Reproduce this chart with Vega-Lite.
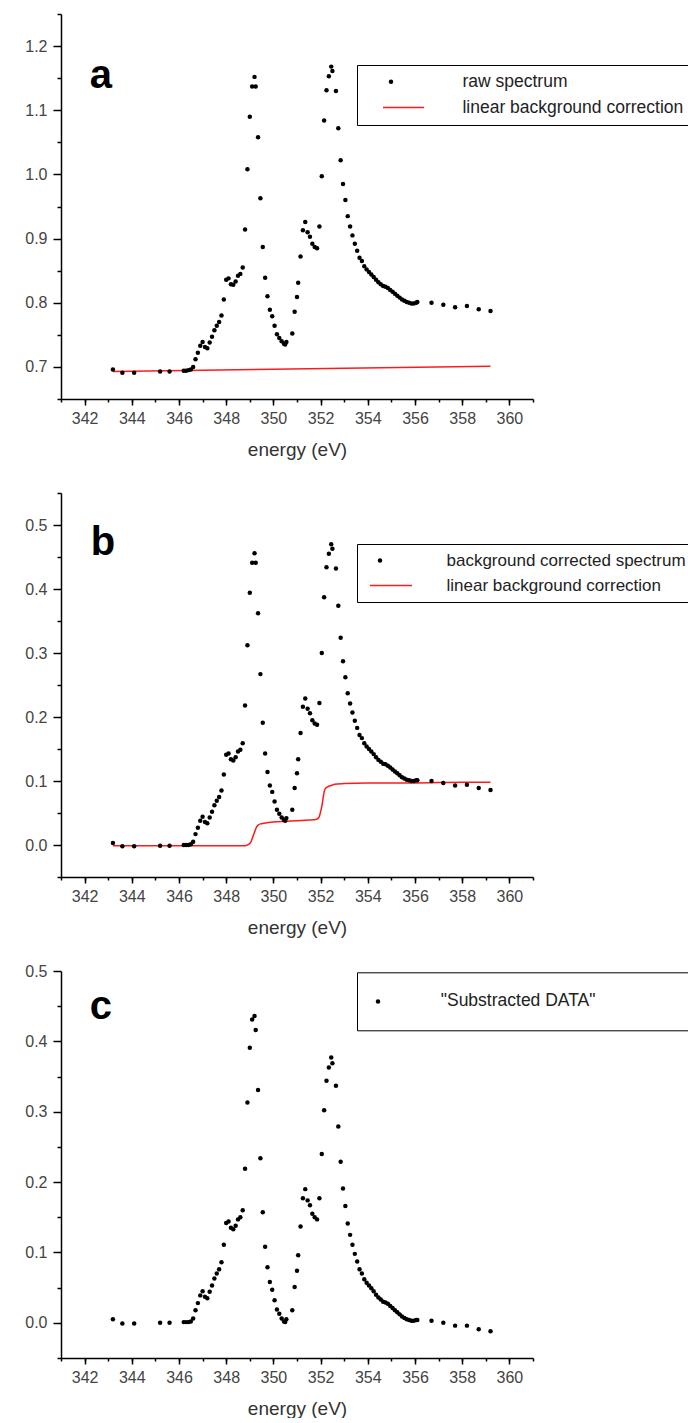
{
  "$schema": "https://vega.github.io/schema/vega-lite/v6.json",
  "padding": {"left": 24, "top": 13, "right": 0, "bottom": 0},
  "spacing": 94,
  "bounds": "flush",
  "resolve": {"scale": {"fill": "independent", "stroke": "independent"}, "legend": {"fill": "independent", "stroke": "independent"}},
  "config": {
    "view": {"stroke": null},
    "axis": {
      "domainColor": "black", "domainWidth": 1.5, "tickColor": "black", "tickWidth": 1.5, "tickCount": 60,
      "labelFont": "Liberation Sans", "labelFontSize": 16, "labelColor": "#444", "labelPadding": 6,
      "titleFont": "Liberation Sans", "titleFontSize": 19, "titleFontWeight": "normal", "titleColor": "#333", "titlePadding": 14,
      "grid": false, "labelFlush": false, "labelOverlap": false
    },
    "legend": {"labelFont": "Liberation Sans", "labelFontSize": 17.5, "labelColor": "#222", "labelLimit": 400}
  },
  "datasets": {
    "rawA": [
      {"energy":343.2,"intensity":0.696},{"energy":343.6,"intensity":0.691},{"energy":344.1,"intensity":0.691},{"energy":345.2,"intensity":0.693},{"energy":345.6,"intensity":0.693},
      {"energy":346.2,"intensity":0.694},{"energy":346.3,"intensity":0.694},{"energy":346.4,"intensity":0.695},{"energy":346.5,"intensity":0.696},{"energy":346.6,"intensity":0.700},
      {"energy":346.7,"intensity":0.712},{"energy":346.8,"intensity":0.722},{"energy":346.9,"intensity":0.733},{"energy":347.0,"intensity":0.739},{"energy":347.1,"intensity":0.731},
      {"energy":347.2,"intensity":0.729},{"energy":347.3,"intensity":0.738},{"energy":347.4,"intensity":0.747},{"energy":347.5,"intensity":0.757},{"energy":347.6,"intensity":0.764},
      {"energy":347.7,"intensity":0.770},{"energy":347.8,"intensity":0.780},{"energy":347.9,"intensity":0.805},{"energy":348.0,"intensity":0.836},{"energy":348.1,"intensity":0.838},
      {"energy":348.2,"intensity":0.829},{"energy":348.3,"intensity":0.828},{"energy":348.4,"intensity":0.833},{"energy":348.5,"intensity":0.842},{"energy":348.6,"intensity":0.845},
      {"energy":348.7,"intensity":0.855},{"energy":348.8,"intensity":0.914},{"energy":348.9,"intensity":1.008},{"energy":349.0,"intensity":1.090},{"energy":349.1,"intensity":1.137},
      {"energy":349.2,"intensity":1.152},{"energy":349.25,"intensity":1.137},{"energy":349.35,"intensity":1.058},{"energy":349.45,"intensity":0.963},{"energy":349.55,"intensity":0.887},
      {"energy":349.65,"intensity":0.839},{"energy":349.75,"intensity":0.810},{"energy":349.85,"intensity":0.789},{"energy":349.95,"intensity":0.779},{"energy":350.05,"intensity":0.764},
      {"energy":350.15,"intensity":0.751},{"energy":350.25,"intensity":0.745},{"energy":350.35,"intensity":0.740},{"energy":350.45,"intensity":0.736},{"energy":350.5,"intensity":0.735},
      {"energy":350.55,"intensity":0.739},{"energy":350.8,"intensity":0.752},{"energy":350.9,"intensity":0.786},{"energy":351.0,"intensity":0.809},{"energy":351.05,"intensity":0.831},
      {"energy":351.15,"intensity":0.872},{"energy":351.25,"intensity":0.913},{"energy":351.35,"intensity":0.926},{"energy":351.45,"intensity":0.910},{"energy":351.55,"intensity":0.903},
      {"energy":351.65,"intensity":0.892},{"energy":351.75,"intensity":0.887},{"energy":351.85,"intensity":0.885},{"energy":351.95,"intensity":0.919},{"energy":352.05,"intensity":0.997},
      {"energy":352.15,"intensity":1.084},{"energy":352.25,"intensity":1.131},{"energy":352.35,"intensity":1.153},{"energy":352.45,"intensity":1.168},{"energy":352.5,"intensity":1.161},
      {"energy":352.65,"intensity":1.130},{"energy":352.75,"intensity":1.072},{"energy":352.85,"intensity":1.022},{"energy":352.95,"intensity":0.985},{"energy":353.05,"intensity":0.960},
      {"energy":353.15,"intensity":0.935},{"energy":353.25,"intensity":0.919},{"energy":353.35,"intensity":0.905},{"energy":353.45,"intensity":0.892},{"energy":353.55,"intensity":0.881},
      {"energy":353.65,"intensity":0.870},{"energy":353.75,"intensity":0.865},{"energy":353.85,"intensity":0.857},{"energy":353.95,"intensity":0.852},{"energy":354.05,"intensity":0.848},
      {"energy":354.15,"intensity":0.844},{"energy":354.25,"intensity":0.840},{"energy":354.35,"intensity":0.836},{"energy":354.45,"intensity":0.832},{"energy":354.55,"intensity":0.829},
      {"energy":354.65,"intensity":0.826},{"energy":354.75,"intensity":0.825},{"energy":354.85,"intensity":0.823},{"energy":354.95,"intensity":0.820},{"energy":355.05,"intensity":0.817},
      {"energy":355.15,"intensity":0.814},{"energy":355.25,"intensity":0.811},{"energy":355.35,"intensity":0.808},{"energy":355.45,"intensity":0.805},{"energy":355.55,"intensity":0.803},
      {"energy":355.65,"intensity":0.801},{"energy":355.75,"intensity":0.800},{"energy":355.85,"intensity":0.799},{"energy":355.95,"intensity":0.799},{"energy":356.05,"intensity":0.800},
      {"energy":356.1,"intensity":0.801},{"energy":356.7,"intensity":0.800},{"energy":357.2,"intensity":0.797},{"energy":357.7,"intensity":0.793},{"energy":358.2,"intensity":0.795},
      {"energy":358.7,"intensity":0.790},{"energy":359.2,"intensity":0.787}
    ],
    "bgA": [{"energy":343.2,"intensity":0.693},{"energy":359.2,"intensity":0.701}],
    "corrB": [
      {"energy":343.2,"intensity":0.003},{"energy":343.6,"intensity":-0.002},{"energy":344.1,"intensity":-0.002},{"energy":345.2,"intensity":-0.001},{"energy":345.6,"intensity":-0.001},
      {"energy":346.2,"intensity":0.000},{"energy":346.3,"intensity":0.000},{"energy":346.4,"intensity":0.000},{"energy":346.5,"intensity":0.001},{"energy":346.6,"intensity":0.005},
      {"energy":346.7,"intensity":0.017},{"energy":346.8,"intensity":0.027},{"energy":346.9,"intensity":0.038},{"energy":347.0,"intensity":0.044},{"energy":347.1,"intensity":0.036},
      {"energy":347.2,"intensity":0.034},{"energy":347.3,"intensity":0.043},{"energy":347.4,"intensity":0.052},{"energy":347.5,"intensity":0.062},{"energy":347.6,"intensity":0.069},
      {"energy":347.7,"intensity":0.075},{"energy":347.8,"intensity":0.085},{"energy":347.9,"intensity":0.110},{"energy":348.0,"intensity":0.141},{"energy":348.1,"intensity":0.143},
      {"energy":348.2,"intensity":0.134},{"energy":348.3,"intensity":0.132},{"energy":348.4,"intensity":0.137},{"energy":348.5,"intensity":0.146},{"energy":348.6,"intensity":0.149},
      {"energy":348.7,"intensity":0.159},{"energy":348.8,"intensity":0.218},{"energy":348.9,"intensity":0.312},{"energy":349.0,"intensity":0.394},{"energy":349.1,"intensity":0.441},
      {"energy":349.2,"intensity":0.456},{"energy":349.25,"intensity":0.441},{"energy":349.35,"intensity":0.362},{"energy":349.45,"intensity":0.267},{"energy":349.55,"intensity":0.191},
      {"energy":349.65,"intensity":0.143},{"energy":349.75,"intensity":0.114},{"energy":349.85,"intensity":0.093},{"energy":349.95,"intensity":0.083},{"energy":350.05,"intensity":0.068},
      {"energy":350.15,"intensity":0.055},{"energy":350.25,"intensity":0.049},{"energy":350.35,"intensity":0.043},{"energy":350.45,"intensity":0.039},{"energy":350.5,"intensity":0.038},
      {"energy":350.55,"intensity":0.042},{"energy":350.8,"intensity":0.055},{"energy":350.9,"intensity":0.089},{"energy":351.0,"intensity":0.112},{"energy":351.05,"intensity":0.134},
      {"energy":351.15,"intensity":0.175},{"energy":351.25,"intensity":0.216},{"energy":351.35,"intensity":0.229},{"energy":351.45,"intensity":0.213},{"energy":351.55,"intensity":0.206},
      {"energy":351.65,"intensity":0.195},{"energy":351.75,"intensity":0.190},{"energy":351.85,"intensity":0.188},{"energy":351.95,"intensity":0.222},{"energy":352.05,"intensity":0.300},
      {"energy":352.15,"intensity":0.387},{"energy":352.25,"intensity":0.434},{"energy":352.35,"intensity":0.455},{"energy":352.45,"intensity":0.470},{"energy":352.5,"intensity":0.463},
      {"energy":352.65,"intensity":0.432},{"energy":352.75,"intensity":0.374},{"energy":352.85,"intensity":0.324},{"energy":352.95,"intensity":0.287},{"energy":353.05,"intensity":0.262},
      {"energy":353.15,"intensity":0.237},{"energy":353.25,"intensity":0.221},{"energy":353.35,"intensity":0.207},{"energy":353.45,"intensity":0.194},{"energy":353.55,"intensity":0.183},
      {"energy":353.65,"intensity":0.172},{"energy":353.75,"intensity":0.167},{"energy":353.85,"intensity":0.159},{"energy":353.95,"intensity":0.154},{"energy":354.05,"intensity":0.150},
      {"energy":354.15,"intensity":0.146},{"energy":354.25,"intensity":0.142},{"energy":354.35,"intensity":0.137},{"energy":354.45,"intensity":0.133},{"energy":354.55,"intensity":0.130},
      {"energy":354.65,"intensity":0.127},{"energy":354.75,"intensity":0.126},{"energy":354.85,"intensity":0.124},{"energy":354.95,"intensity":0.121},{"energy":355.05,"intensity":0.118},
      {"energy":355.15,"intensity":0.115},{"energy":355.25,"intensity":0.112},{"energy":355.35,"intensity":0.109},{"energy":355.45,"intensity":0.106},{"energy":355.55,"intensity":0.104},
      {"energy":355.65,"intensity":0.102},{"energy":355.75,"intensity":0.101},{"energy":355.85,"intensity":0.100},{"energy":355.95,"intensity":0.100},{"energy":356.05,"intensity":0.101},
      {"energy":356.1,"intensity":0.101},{"energy":356.7,"intensity":0.100},{"energy":357.2,"intensity":0.097},{"energy":357.7,"intensity":0.093},{"energy":358.2,"intensity":0.094},
      {"energy":358.7,"intensity":0.089},{"energy":359.2,"intensity":0.086}
    ],
    "bgB": [
      {"energy":343.2,"intensity":-0.001},{"energy":348.8,"intensity":-0.001},{"energy":348.95,"intensity":0.001},{"energy":349.05,"intensity":0.005},{"energy":349.1,"intensity":0.010},
      {"energy":349.15,"intensity":0.015},{"energy":349.2,"intensity":0.020},{"energy":349.25,"intensity":0.025},{"energy":349.3,"intensity":0.029},{"energy":349.35,"intensity":0.031},
      {"energy":349.45,"intensity":0.033},{"energy":349.6,"intensity":0.034},{"energy":350.0,"intensity":0.036},{"energy":350.5,"intensity":0.037},{"energy":351.0,"intensity":0.038},
      {"energy":351.5,"intensity":0.039},{"energy":351.8,"intensity":0.040},{"energy":351.9,"intensity":0.042},{"energy":351.95,"intensity":0.045},{"energy":352.0,"intensity":0.052},
      {"energy":352.05,"intensity":0.060},{"energy":352.1,"intensity":0.072},{"energy":352.15,"intensity":0.083},{"energy":352.2,"intensity":0.088},{"energy":352.3,"intensity":0.091},
      {"energy":352.45,"intensity":0.093},{"energy":352.6,"intensity":0.095},{"energy":353.0,"intensity":0.096},{"energy":354.0,"intensity":0.097},{"energy":356.0,"intensity":0.097},
      {"energy":358.0,"intensity":0.098},{"energy":359.2,"intensity":0.098}
    ],
    "subC": [
      {"energy":343.2,"intensity":0.005},{"energy":343.6,"intensity":-0.001},{"energy":344.1,"intensity":-0.001},{"energy":345.2,"intensity":0.000},{"energy":345.6,"intensity":0.000},
      {"energy":346.2,"intensity":0.001},{"energy":346.3,"intensity":0.001},{"energy":346.4,"intensity":0.001},{"energy":346.5,"intensity":0.002},{"energy":346.6,"intensity":0.006},
      {"energy":346.7,"intensity":0.018},{"energy":346.8,"intensity":0.028},{"energy":346.9,"intensity":0.039},{"energy":347.0,"intensity":0.045},{"energy":347.1,"intensity":0.037},
      {"energy":347.2,"intensity":0.035},{"energy":347.3,"intensity":0.044},{"energy":347.4,"intensity":0.053},{"energy":347.5,"intensity":0.063},{"energy":347.6,"intensity":0.070},
      {"energy":347.7,"intensity":0.076},{"energy":347.8,"intensity":0.086},{"energy":347.9,"intensity":0.111},{"energy":348.0,"intensity":0.142},{"energy":348.1,"intensity":0.144},
      {"energy":348.2,"intensity":0.135},{"energy":348.3,"intensity":0.133},{"energy":348.4,"intensity":0.138},{"energy":348.5,"intensity":0.147},{"energy":348.6,"intensity":0.150},
      {"energy":348.7,"intensity":0.160},{"energy":348.8,"intensity":0.219},{"energy":348.9,"intensity":0.313},{"energy":349.0,"intensity":0.391},{"energy":349.1,"intensity":0.431},
      {"energy":349.2,"intensity":0.436},{"energy":349.25,"intensity":0.416},{"energy":349.35,"intensity":0.331},{"energy":349.45,"intensity":0.234},{"energy":349.55,"intensity":0.157},
      {"energy":349.65,"intensity":0.108},{"energy":349.75,"intensity":0.079},{"energy":349.85,"intensity":0.058},{"energy":349.95,"intensity":0.047},{"energy":350.05,"intensity":0.032},
      {"energy":350.15,"intensity":0.019},{"energy":350.25,"intensity":0.013},{"energy":350.35,"intensity":0.006},{"energy":350.45,"intensity":0.002},{"energy":350.5,"intensity":0.001},
      {"energy":350.55,"intensity":0.005},{"energy":350.8,"intensity":0.018},{"energy":350.9,"intensity":0.051},{"energy":351.0,"intensity":0.074},{"energy":351.05,"intensity":0.096},
      {"energy":351.15,"intensity":0.137},{"energy":351.25,"intensity":0.177},{"energy":351.35,"intensity":0.190},{"energy":351.45,"intensity":0.174},{"energy":351.55,"intensity":0.167},
      {"energy":351.65,"intensity":0.155},{"energy":351.75,"intensity":0.150},{"energy":351.85,"intensity":0.147},{"energy":351.95,"intensity":0.177},{"energy":352.05,"intensity":0.240},
      {"energy":352.15,"intensity":0.302},{"energy":352.25,"intensity":0.344},{"energy":352.35,"intensity":0.363},{"energy":352.45,"intensity":0.377},{"energy":352.5,"intensity":0.369},
      {"energy":352.65,"intensity":0.337},{"energy":352.75,"intensity":0.279},{"energy":352.85,"intensity":0.229},{"energy":352.95,"intensity":0.191},{"energy":353.05,"intensity":0.166},
      {"energy":353.15,"intensity":0.141},{"energy":353.25,"intensity":0.125},{"energy":353.35,"intensity":0.111},{"energy":353.45,"intensity":0.098},{"energy":353.55,"intensity":0.087},
      {"energy":353.65,"intensity":0.076},{"energy":353.75,"intensity":0.070},{"energy":353.85,"intensity":0.062},{"energy":353.95,"intensity":0.057},{"energy":354.05,"intensity":0.053},
      {"energy":354.15,"intensity":0.049},{"energy":354.25,"intensity":0.045},{"energy":354.35,"intensity":0.040},{"energy":354.45,"intensity":0.036},{"energy":354.55,"intensity":0.033},
      {"energy":354.65,"intensity":0.030},{"energy":354.75,"intensity":0.029},{"energy":354.85,"intensity":0.027},{"energy":354.95,"intensity":0.024},{"energy":355.05,"intensity":0.021},
      {"energy":355.15,"intensity":0.018},{"energy":355.25,"intensity":0.015},{"energy":355.35,"intensity":0.012},{"energy":355.45,"intensity":0.009},{"energy":355.55,"intensity":0.007},
      {"energy":355.65,"intensity":0.005},{"energy":355.75,"intensity":0.004},{"energy":355.85,"intensity":0.003},{"energy":355.95,"intensity":0.003},{"energy":356.05,"intensity":0.004},
      {"energy":356.1,"intensity":0.004},{"energy":356.7,"intensity":0.003},{"energy":357.2,"intensity":0.000},{"energy":357.7,"intensity":-0.004},{"energy":358.2,"intensity":-0.004},
      {"energy":358.7,"intensity":-0.009},{"energy":359.2,"intensity":-0.012}
    ]
  },
  "vconcat": [
    {
      "width": 472, "height": 385,
      "resolve": {"axis": {"x": "independent", "y": "independent"}},
      "layer": [
        {
          "data": {"name": "bgA"},
          "mark": {"type": "line", "strokeWidth": 1.5},
          "encoding": {
            "x": {"field": "energy", "type": "quantitative", "scale": {"domain": [341, 361], "nice": false, "zero": false},
              "axis": {"title": "energy (eV)", "orient": "bottom", "tickCount": 60, "tickSize": 6, "labelPadding": 5, "format": "d",
                "values": [342,344,346,348,350,352,354,356,358,360]}},
            "y": {"field": "intensity", "type": "quantitative", "scale": {"domain": [0.65, 1.25], "nice": false, "zero": false},
              "axis": {"title": null, "orient": "left", "tickCount": 60, "tickSize": 8, "format": ".1f", "values": [0.7,0.8,0.9,1.0,1.1,1.2]}},
            "stroke": {"datum": "linear background correction", "type": "nominal", "scale": {"range": ["#ff1a1a"]},
              "legend": {"orient": "none", "legendX": 321, "legendY": 72, "title": null, "padding": 0, "symbolType": "stroke",
                "symbolSize": 1681, "symbolStrokeWidth": 1.5, "labelExpr": "''", "labelFontSize": 1}}
          }
        },
        {
          "data": {"name": "rawA"},
          "mark": {"type": "point", "filled": true, "size": 20, "opacity": 1, "strokeWidth": 0},
          "encoding": {
            "x": {"field": "energy", "type": "quantitative",
              "axis": {"title": null, "orient": "bottom", "tickCount": 60, "tickSize": 3, "labels": false, "domain": false,
                "values": [341,342,343,344,345,346,347,348,349,350,351,352,353,354,355,356,357,358,359,360,361]}},
            "y": {"field": "intensity", "type": "quantitative",
              "axis": {"title": null, "orient": "left", "tickCount": 60, "tickSize": 4, "labels": false, "domain": false,
                "values": [0.65,0.75,0.85,0.95,1.05,1.15,1.25]}},
            "fill": {"datum": "raw spectrum", "type": "nominal",
              "scale": {"domain": ["raw spectrum", "linear background correction"], "range": ["black", "transparent"]},
              "legend": {"orient": "none", "legendX": 296, "legendY": 51, "title": null, "padding": 8, "strokeColor": "black",
                "symbolSize": 20, "symbolOffset": 17.25, "labelOffset": 62.7, "rowPadding": 7.5}}
          }
        },
        {
          "data": {"values": [{}]},
          "mark": {"type": "text", "text": "a", "font": "Liberation Sans", "fontWeight": "bold", "fontSize": 40, "align": "left", "baseline": "alphabetic", "color": "black"},
          "encoding": {"x": {"datum": 342.22, "type": "quantitative", "axis": null}, "y": {"datum": 1.134, "type": "quantitative", "axis": null}}
        }
      ]
    },
    {
      "width": 472, "height": 384,
      "resolve": {"axis": {"x": "independent", "y": "independent"}},
      "layer": [
        {
          "data": {"name": "bgB"},
          "mark": {"type": "line", "strokeWidth": 1.5, "interpolate": "monotone"},
          "encoding": {
            "x": {"field": "energy", "type": "quantitative", "scale": {"domain": [341, 361], "nice": false, "zero": false},
              "axis": {"title": "energy (eV)", "orient": "bottom", "tickCount": 60, "tickSize": 6, "labelPadding": 5, "format": "d",
                "values": [342,344,346,348,350,352,354,356,358,360]}},
            "y": {"field": "intensity", "type": "quantitative", "scale": {"domain": [-0.05, 0.55], "nice": false, "zero": false},
              "axis": {"title": null, "orient": "left", "tickCount": 60, "tickSize": 8, "format": ".1f", "values": [0,0.1,0.2,0.3,0.4,0.5]}},
            "stroke": {"datum": "linear background correction", "type": "nominal", "scale": {"range": ["#ff1a1a"]},
              "legend": {"orient": "none", "legendX": 308, "legendY": 70.4, "title": null, "padding": 0, "symbolType": "stroke",
                "symbolSize": 1764, "symbolStrokeWidth": 1.5, "labelExpr": "''", "labelFontSize": 1}}
          }
        },
        {
          "data": {"name": "corrB"},
          "mark": {"type": "point", "filled": true, "size": 20, "opacity": 1, "strokeWidth": 0},
          "encoding": {
            "x": {"field": "energy", "type": "quantitative",
              "axis": {"title": null, "orient": "bottom", "tickCount": 60, "tickSize": 3, "labels": false, "domain": false,
                "values": [341,342,343,344,345,346,347,348,349,350,351,352,353,354,355,356,357,358,359,360,361]}},
            "y": {"field": "intensity", "type": "quantitative",
              "axis": {"title": null, "orient": "left", "tickCount": 60, "tickSize": 4, "labels": false, "domain": false,
                "values": [-0.05,0.05,0.15,0.25,0.35,0.45,0.55]}},
            "fill": {"datum": "background corrected spectrum", "type": "nominal",
              "scale": {"domain": ["background corrected spectrum", "linear background correction"], "range": ["black", "transparent"]},
              "legend": {"orient": "none", "legendX": 296, "legendY": 51, "title": null, "padding": 8, "strokeColor": "black",
                "symbolSize": 20, "symbolOffset": 6.5, "labelOffset": 58, "rowPadding": 7.5, "labelFontSize": 17}}
          }
        },
        {
          "data": {"values": [{}]},
          "mark": {"type": "text", "text": "b", "font": "Liberation Sans", "fontWeight": "bold", "fontSize": 40, "align": "left", "baseline": "alphabetic", "color": "black"},
          "encoding": {"x": {"datum": 342.26, "type": "quantitative", "axis": null}, "y": {"datum": 0.4537, "type": "quantitative", "axis": null}}
        }
      ]
    },
    {
      "width": 472, "height": 387,
      "resolve": {"axis": {"x": "independent", "y": "independent"}},
      "layer": [
        {
          "data": {"name": "subC"},
          "mark": {"type": "point", "filled": true, "size": 20, "opacity": 1, "strokeWidth": 0},
          "encoding": {
            "x": {"field": "energy", "type": "quantitative", "scale": {"domain": [341, 361], "nice": false, "zero": false},
              "axis": {"title": "energy (eV)", "orient": "bottom", "tickCount": 60, "tickSize": 6, "labelPadding": 5, "format": "d",
                "values": [342,344,346,348,350,352,354,356,358,360]}},
            "y": {"field": "intensity", "type": "quantitative", "scale": {"domain": [-0.05, 0.5], "nice": false, "zero": false},
              "axis": {"title": null, "orient": "left", "tickCount": 60, "tickSize": 8, "format": ".1f", "values": [0,0.1,0.2,0.3,0.4,0.5]}},
            "fill": {"datum": "\"Substracted DATA\"", "type": "nominal",
              "scale": {"domain": ["\"Substracted DATA\"", " "], "range": ["black", "transparent"]},
              "legend": {"orient": "none", "legendX": 296, "legendY": 1.3, "title": null, "padding": 20, "strokeColor": "black",
                "symbolSize": 20, "symbolOffset": -7.75, "labelOffset": 54, "columns": 2, "columnPadding": 10}}
          }
        },
        {
          "data": {"name": "subC"},
          "mark": {"type": "point", "opacity": 0},
          "encoding": {
            "x": {"field": "energy", "type": "quantitative",
              "axis": {"title": null, "orient": "bottom", "tickCount": 60, "tickSize": 3, "labels": false, "domain": false,
                "values": [341,342,343,344,345,346,347,348,349,350,351,352,353,354,355,356,357,358,359,360,361]}},
            "y": {"field": "intensity", "type": "quantitative",
              "axis": {"title": null, "orient": "left", "tickCount": 60, "tickSize": 4, "labels": false, "domain": false,
                "values": [-0.05,0.05,0.15,0.25,0.35,0.45]}}
          }
        },
        {
          "data": {"values": [{}]},
          "mark": {"type": "text", "text": "c", "font": "Liberation Sans", "fontWeight": "bold", "fontSize": 40, "align": "left", "baseline": "alphabetic", "color": "black"},
          "encoding": {"x": {"datum": 342.22, "type": "quantitative", "axis": null}, "y": {"datum": 0.432, "type": "quantitative", "axis": null}}
        }
      ]
    }
  ]
}
